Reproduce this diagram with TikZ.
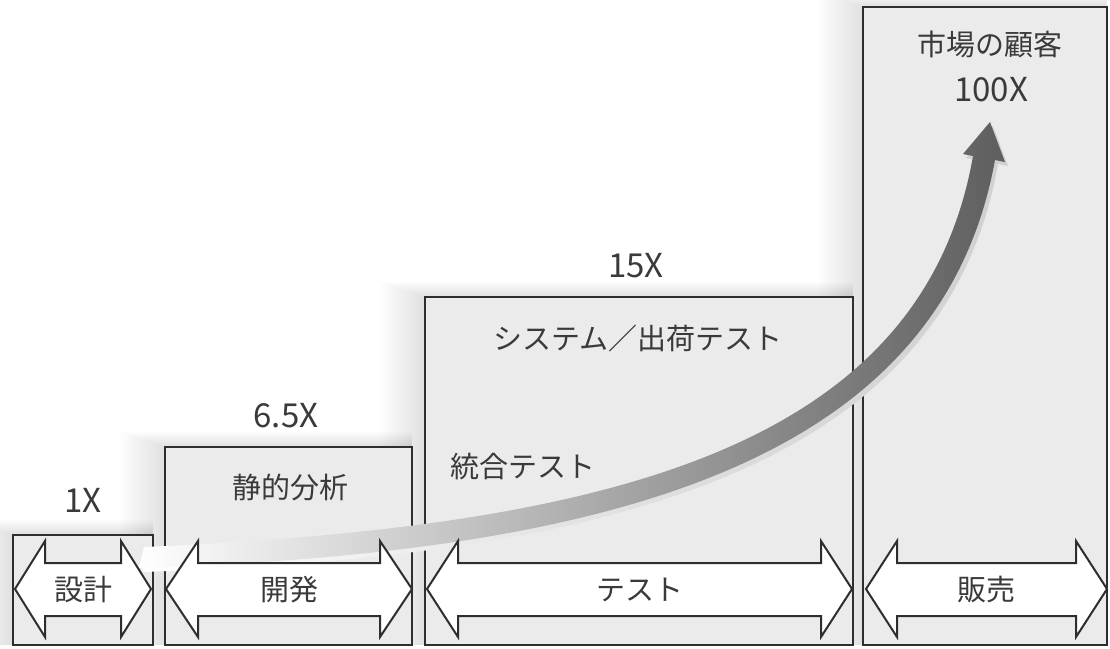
\documentclass[tikz,border=0pt]{standalone}
\usepackage{fontspec}
\setmainfont{Noto Sans CJK JP}
\definecolor{boxfill}{HTML}{EBEBEB}
\definecolor{ink}{HTML}{2E2E2E}
\definecolor{txt}{HTML}{3A3A3A}
\definecolor{arrdark}{HTML}{5E5E5E}
\definecolor{arrmid}{HTML}{B4B4B4}
\definecolor{shadowc}{HTML}{D0D0D0}
\tikzset{
  stagebox/.style={draw=ink, fill=boxfill, line width=2pt},
  arrowbox/.style={draw=ink, fill=white, line width=2pt, line join=miter},
  lbl/.style={text=txt, font=\fontsize{29}{32}\selectfont, inner sep=0pt},
  num/.style={text=txt, font=\fontsize{33}{36}\selectfont, inner sep=0pt},
}
\newcommand{\softshadow}[4]{%
  \foreach \i in {1,...,15}{\fill[black,opacity=0.007] ({#1-3*\i},{#2-1*\i}) rectangle (#3,#4);}}
\newcommand{\dbarrow}[5]{% name, xl, xr, head, text
  \draw[arrowbox] (#2,589) -- (#2+#4,541) -- (#2+#4,563) -- (#3-#4,563) -- (#3-#4,541) -- (#3,589)
     -- (#3-#4,637) -- (#3-#4,616) -- (#2+#4,616) -- (#2+#4,637) -- cycle;
  \node[lbl] (#1) at ({(#2+#3)/2},590) {#5};}
\begin{document}
\begin{tikzpicture}[x=1pt,y=-1pt]
\useasboundingbox (0,0) rectangle (1110,648);
\fill[white] (0,0) rectangle (1110,648);
% soft shadows
\softshadow{13}{535}{153}{645}
\softshadow{165}{447}{412}{645}
\softshadow{425}{297}{853}{645}
\softshadow{863}{7}{1107}{645}
% boxes
\draw[stagebox] (13,535) rectangle (153,645);
\draw[stagebox] (165,447) rectangle (412,645);
\draw[stagebox] (425,297) rectangle (853,645);
\draw[stagebox] (863,7) rectangle (1107,645);
% curved arrow shadow
\shade[left color=white, right color=shadowc, middle color=shadowc!60!white]
  (147,551) .. controls (603,531) and (924,456) .. (976,160)
  -- (966,158) -- (993,126) -- (1008,166) -- (998,164)
  .. controls (944,472) and (603,557) .. (142,572) -- cycle;
% curved arrow
\shade[left color=white, middle color=arrmid, right color=arrdark]
  (144,547) .. controls (600,527) and (921,452) .. (973,156)
  -- (963,154) -- (990,122) -- (1005,162) -- (995,160)
  .. controls (939,468) and (600,553) .. (139,568) -- cycle;
% double arrows
\dbarrow{design}{15}{151}{30}{設計}
\dbarrow{dev}{166}{412}{32}{開発}
\dbarrow{test}{427}{852}{31}{テスト}
\dbarrow{sales}{866}{1107}{31}{販売}
% labels
\node[num] (x1) at (83,500) {1X};
\node[num] (x65) at (286,416) {6.5X};
\node[num] (x15) at (636,266) {15X};
\node[num] (x100) at (991,90) {100X};
\node[lbl] (market) at (990,44) {市場の顧客};
\node[lbl] (systest) at (638,338) {システム／出荷テスト};
\node[lbl] (static) at (290,487) {静的分析};
\node[lbl] (integ) at (523,467) {統合テスト};
\end{tikzpicture}
\end{document}
